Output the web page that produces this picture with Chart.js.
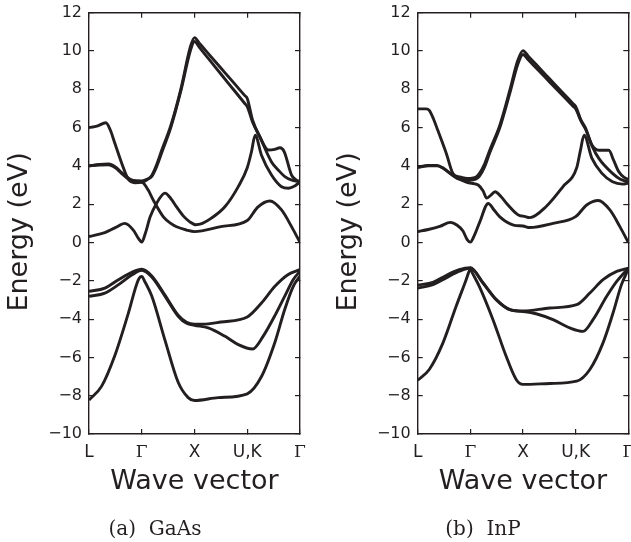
<!DOCTYPE html>
<html>
<head>
<meta charset="utf-8">
<script src="https://cdn.jsdelivr.net/npm/chart.js@4.4.1/dist/chart.umd.min.js"></script>
<style>
  html, body { margin: 0; padding: 0; background: #fff; overflow: hidden; }
  #wrap { position: relative; width: 631px; height: 542px; }
  canvas { position: absolute; top: 0; }
  #gaas { left: 0; }
  #inp { left: 315px; }
  .cap {
    position: absolute; top: 518px; line-height: 20px;
    font-family: 'DejaVu Serif', serif; font-size: 20px; color: #231f20;
    white-space: pre; transform: translateX(-50%);
  }
</style>
</head>
<body>
<div id="wrap">
  <canvas id="gaas" width="315" height="542"></canvas>
  <canvas id="inp" width="316" height="542"></canvas>
  <div class="cap" style="left:155px">(a)  GaAs</div>
  <div class="cap" style="left:483px">(b)  InP</div>
</div>
<script>
// high symmetry points along the path, and the energy axis
const kLabels = ['L', 'Γ', 'X', 'U,K', 'Γ'];
const energyMin = -10;
const energyMax = 12;
const energyStep = 2;

// GaAs bands, [k, E(eV)]
const gaasCondA = [[0,0.31],[0.3,0.52],[0.5,0.78],[0.68,1.0],[0.84,0.65],[0.94,0.2],[1.0,0.02],[1.07,0.5],[1.16,1.34],[1.28,2.04],[1.44,2.58],[1.55,2.3],[1.66,1.86],[1.8,1.35],[1.91,1.08],[2.02,0.93],[2.15,1.0],[2.32,1.27],[2.58,1.88],[2.83,2.92],[3.0,3.9],[3.08,4.74],[3.15,5.6],[3.27,4.56],[3.46,3.52],[3.65,2.91],[3.78,2.83],[3.9,2.95],[4.0,3.17]];
const gaasCondB = [[0,4.0],[0.2,4.08],[0.37,4.1],[0.5,3.95],[0.62,3.65],[0.78,3.3],[0.9,3.18],[1.02,3.12],[1.12,2.75],[1.22,2.21],[1.41,1.34],[1.55,1.0],[1.66,0.82],[1.85,0.65],[2.0,0.57],[2.5,0.83],[3.0,1.15],[3.2,1.85],[3.43,2.17],[3.65,1.7],[3.84,0.83],[4.0,0.0]];
const gaasCondC = [[0,6.0],[0.15,6.08],[0.32,6.25],[0.4,5.9],[0.49,5.18],[0.62,4.14],[0.745,3.3],[0.87,3.12],[1.0,3.15],[1.1,3.28],[1.19,3.5],[1.28,4.05],[1.38,4.83],[1.55,6.1],[1.74,8.0],[1.92,10.2],[2.0,10.7],[2.1,10.38],[2.25,9.9],[2.5,9.11],[2.75,8.32],[2.95,7.68],[3.0,7.52],[3.1,6.4],[3.24,5.52],[3.4,4.83],[3.52,4.86],[3.62,4.95],[3.7,4.75],[3.84,3.52],[3.92,3.28],[4.0,3.17]];
const gaasCondD = [[0,4.0],[0.2,4.05],[0.37,4.06],[0.5,3.9],[0.62,3.6],[0.8,3.25],[1.0,3.22],[1.1,3.3],[1.19,3.45],[1.28,3.95],[1.38,4.7],[1.55,6.0],[1.74,7.9],[1.92,10.0],[2.0,10.5],[2.1,10.16],[2.25,9.65],[2.5,8.8],[2.75,7.95],[2.95,7.27],[3.0,7.1],[3.1,6.3],[3.24,5.5],[3.46,4.21],[3.6,3.75],[3.72,3.43],[3.86,3.25],[4.0,3.17]];
const gaasVal1 = [[0,-8.23],[0.24,-7.5],[0.49,-5.9],[0.745,-3.7],[0.935,-1.95],[1.0,-1.77],[1.06,-2.05],[1.19,-2.8],[1.44,-5.1],[1.69,-7.3],[1.88,-8.1],[2.0,-8.25],[2.45,-8.1],[3.0,-7.9],[3.27,-7.0],[3.52,-5.25],[3.71,-3.5],[3.87,-2.3],[4.0,-1.75]];
const gaasVal2 = [[0,-2.81],[0.3,-2.64],[0.56,-2.2],[0.81,-1.7],[1.0,-1.45],[1.19,-1.8],[1.44,-2.8],[1.69,-3.85],[1.85,-4.22],[2.0,-4.32],[2.26,-4.46],[2.58,-4.9],[2.83,-5.33],[3.1,-5.56],[3.3,-4.9],[3.55,-3.68],[3.74,-2.64],[3.87,-1.94],[4.0,-1.5]];
const gaasVal3 = [[0,-2.55],[0.3,-2.38],[0.56,-1.94],[0.81,-1.56],[1.0,-1.4],[1.19,-1.75],[1.44,-2.75],[1.69,-3.8],[1.85,-4.17],[2.0,-4.27],[2.26,-4.25],[2.5,-4.15],[3.0,-3.89],[3.27,-3.16],[3.52,-2.3],[3.77,-1.68],[4.0,-1.42]];

// InP bands
const inpCondA = [[0,0.57],[0.2,0.68],[0.42,0.84],[0.62,1.05],[0.75,0.9],[0.86,0.6],[0.94,0.15],[1.0,0.02],[1.08,0.4],[1.18,1.08],[1.34,2.04],[1.45,1.7],[1.56,1.34],[1.82,0.91],[2.0,0.86],[2.13,0.78],[2.57,1.0],[3.0,1.35],[3.21,1.96],[3.43,2.19],[3.65,1.7],[3.84,0.83],[4.0,0.0]];
const inpCondB = [[0,3.95],[0.2,4.02],[0.37,4.03],[0.5,3.85],[0.62,3.6],[0.74,3.4],[0.9,3.18],[1.0,3.1],[1.15,3.0],[1.24,2.7],[1.31,2.32],[1.38,2.45],[1.47,2.65],[1.58,2.4],[1.69,2.04],[1.94,1.4],[2.0,1.38],[2.13,1.3],[2.44,1.88],[2.76,2.92],[3.02,3.9],[3.09,4.8],[3.16,5.6],[3.31,4.39],[3.5,3.61],[3.7,3.17],[3.89,3.05],[4.0,3.1]];
const inpCondC = [[0,6.98],[0.16,6.98],[0.22,6.9],[0.3,6.45],[0.38,5.87],[0.55,4.6],[0.67,3.6],[0.8,3.42],[0.9,3.36],[1.0,3.35],[1.1,3.4],[1.17,3.6],[1.27,4.1],[1.37,4.83],[1.56,6.13],[1.75,7.95],[1.9,9.5],[2.0,10.02],[2.1,9.73],[2.25,9.29],[2.5,8.56],[2.75,7.83],[2.95,7.25],[3.0,7.1],[3.1,6.4],[3.19,5.96],[3.31,5.09],[3.44,4.82],[3.63,4.82],[3.72,4.3],[3.82,3.69],[3.92,3.4],[4.0,3.3]];
const inpCondD = [[0,3.92],[0.2,4.0],[0.37,4.0],[0.5,3.85],[0.62,3.6],[0.75,3.35],[0.9,3.25],[1.0,3.25],[1.1,3.3],[1.17,3.45],[1.27,3.95],[1.37,4.7],[1.56,6.0],[1.75,7.8],[1.9,9.3],[2.0,9.82],[2.1,9.54],[2.25,9.11],[2.5,8.4],[2.75,7.69],[2.95,7.12],[3.0,6.98],[3.1,6.35],[3.19,5.9],[3.31,5.05],[3.44,4.39],[3.7,3.61],[3.85,3.3],[4.0,3.17]];
const inpVal1 = [[0,-7.19],[0.22,-6.63],[0.48,-5.24],[0.73,-3.33],[0.92,-1.94],[0.97,-1.55],[1.0,-1.39],[1.04,-1.6],[1.17,-2.29],[1.43,-4.03],[1.68,-5.94],[1.87,-7.15],[2.0,-7.41],[2.51,-7.36],[3.02,-7.24],[3.27,-6.63],[3.52,-5.24],[3.71,-3.68],[3.87,-2.2],[4.0,-1.39]];
const inpVal2 = [[0,-2.38],[0.29,-2.2],[0.54,-1.85],[0.79,-1.5],[1.0,-1.34],[1.24,-2.12],[1.49,-2.99],[1.75,-3.51],[2.0,-3.6],[2.25,-3.72],[2.57,-4.03],[2.89,-4.46],[3.14,-4.64],[3.33,-4.03],[3.59,-2.81],[3.78,-2.03],[4.0,-1.34]];
const inpVal3 = [[0,-2.22],[0.29,-2.08],[0.54,-1.72],[0.79,-1.42],[1.0,-1.32],[1.24,-2.1],[1.49,-2.97],[1.75,-3.5],[2.0,-3.58],[2.51,-3.42],[3.02,-3.25],[3.27,-2.64],[3.52,-1.94],[3.78,-1.51],[4.0,-1.34]];

const ink = '#231f20';
Chart.defaults.font.family = "'DejaVu Sans', sans-serif";
Chart.defaults.color = ink;

// pin the axis box sizes so the plot box lands where the original has it
const fixBox = (w, h) => scale => {
  if (w !== null) scale.width = w;
  if (h !== null) scale.height = h;
  scale.paddingLeft = scale.paddingRight = scale.paddingTop = scale.paddingBottom = 0;
};

const frame = { display: true, color: ink, width: 1.4 };
const inTicks = { drawOnChartArea: false, drawTicks: true, tickLength: -5, color: ink, lineWidth: 1.2 };

function bandChart(id, bands, padLeft, padRight) {
  const datasets = bands.map(b => ({
    data: b.map(p => ({ x: p[0], y: p[1] })),
    borderColor: ink,
    borderWidth: 2.9,
    pointRadius: 0,
    fill: false,
    cubicInterpolationMode: 'monotone'
  }));

  const kAxis = { type: 'linear', min: 0, max: kLabels.length - 1 };
  const eAxis = { type: 'linear', min: energyMin, max: energyMax };

  return new Chart(document.getElementById(id), {
    type: 'line',
    data: { datasets },
    options: {
      responsive: false,
      animation: false,
      events: [],
      layout: { padding: { left: padLeft, right: padRight, top: 12.7, bottom: 42 } },
      plugins: { legend: { display: false }, tooltip: { enabled: false } },
      scales: {
        x: {
          ...kAxis,
          position: 'bottom',
          border: frame,
          grid: inTicks,
          afterFit: fixBox(null, 66),
          ticks: {
            stepSize: 1,
            padding: 13,
            autoSkip: false,
            maxRotation: 0,
            callback: v => kLabels[v],
            font: ctx => kLabels[ctx.index] === 'Γ'
              ? { family: "'DejaVu Serif', serif", size: 17 }
              : { family: "'DejaVu Sans', sans-serif", size: 17 }
          },
          title: {
            display: true,
            text: 'Wave vector',
            font: { size: 27 },
            padding: { top: 0, bottom: 2 }
          }
        },
        x2: {
          ...kAxis,
          position: 'top',
          border: frame,
          grid: inTicks,
          afterFit: fixBox(null, 0),
          ticks: { stepSize: 1, display: false }
        },
        y: {
          ...eAxis,
          position: 'left',
          border: frame,
          grid: inTicks,
          afterFit: fixBox(89, null),
          ticks: {
            stepSize: energyStep,
            padding: 12,
            font: { size: 16 },
            callback: v => (v < 0 ? '\u2212' + Math.abs(v) : String(v))
          },
          title: {
            display: true,
            // trailing spaces push the label down to where the original sits
            text: 'Energy (eV)\u00a0\u00a0',
            font: { size: 27 },
            padding: { top: 4, bottom: 0 }
          }
        },
        y2: {
          ...eAxis,
          position: 'right',
          border: frame,
          grid: inTicks,
          afterFit: fixBox(0, null),
          ticks: { stepSize: energyStep, display: false }
        }
      }
    }
  });
}

bandChart('gaas', [gaasVal1, gaasVal2, gaasVal3, gaasCondA, gaasCondB, gaasCondC, gaasCondD], 0, 15);
bandChart('inp', [inpVal1, inpVal2, inpVal3, inpCondA, inpCondB, inpCondC, inpCondD], 13.7, 2.7);
</script>
</body>
</html>
